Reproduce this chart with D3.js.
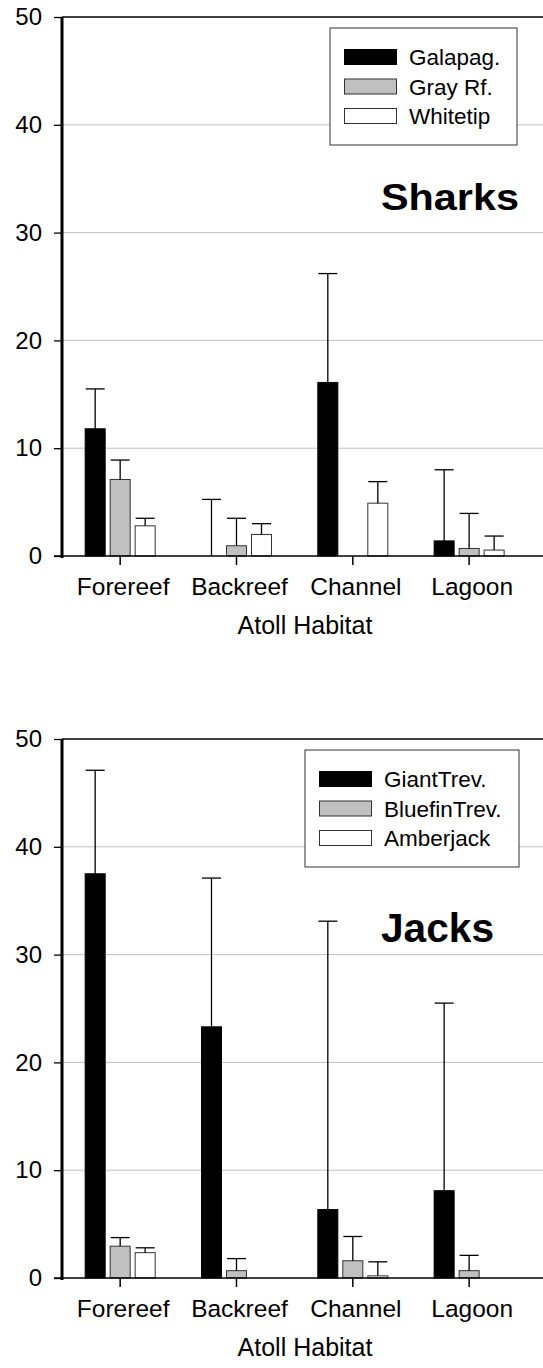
<!DOCTYPE html>
<html lang="en">
<head>
<meta charset="UTF-8">
<title>Sharks and Jacks by atoll habitat</title>
<script src="https://d3js.org/d3.v7.min.js"></script>
<style>
  body { margin: 0; background: #fff; }
  svg { display: block; font-family: Arial, "Liberation Sans", sans-serif; }
  .grid line { stroke: #c0c0c0; stroke-width: 1; }
  .err { stroke: #000; stroke-width: 1.3; fill: none; }
</style>
</head>
<body>
<svg width="543" height="1368"></svg>
<script>
// data
var habitats = ["Forereef", "Backreef", "Channel", "Lagoon"];
var yTicks = [0, 10, 20, 30, 40, 50];
var fills = ["#000000", "#c0c0c0", "#ffffff"];

var sharkNames = ["Galapag.", "Gray Rf.", "Whitetip"];
var galapagMean = [11.8, 0, 16.1, 1.4];
var galapagErr = [3.7, 5.25, 10.1, 6.6];
var grayRfMean = [7.1, 0.95, 0, 0.7];
var grayRfErr = [1.8, 2.55, 0, 3.25];
var whitetipMean = [2.8, 2.0, 4.9, 0.55];
var whitetipErr = [0.7, 1.0, 2.0, 1.3];

var jackNames = ["GiantTrev.", "BluefinTrev.", "Amberjack"];
var giantMean = [37.5, 23.3, 6.35, 8.1];
var giantErr = [9.6, 13.8, 26.75, 17.4];
var bluefinMean = [2.95, 0.68, 1.6, 0.68];
var bluefinErr = [0.8, 1.12, 2.25, 1.42];
var amberMean = [2.35, 0, 0.2, 0];
var amberErr = [0.45, 0, 1.3, 0];

var svg = d3.select("svg");

function panel(top, title, titleLen, titleSize, names, means, errs, legendX, legendW) {
    var g = svg.append("g").attr("transform", "translate(0," + top + ")");
    var axisX = 62, right = 543;

    var y = d3.scaleLinear().domain([0, 50]).range([556, 17]);
    var x = d3.scaleBand().domain(habitats).range([62, 527.3]).padding(0);
    var xs = d3.scaleBand().domain(d3.range(names.length)).range([-35, 35]).paddingInner(0.2);

    // gridlines
    g.append("g").attr("class", "grid")
        .selectAll("line").data(yTicks.filter(function (d) { return d > 0 && d < 50; }))
        .enter().append("line")
        .attr("x1", axisX).attr("x2", right)
        .attr("y1", function (d) { return y(d); }).attr("y2", function (d) { return y(d); });

    // top border
    g.append("line").attr("x1", axisX).attr("x2", right)
        .attr("y1", y(50)).attr("y2", y(50)).attr("stroke", "#000").attr("stroke-width", 1.3);

    // y axis
    var yAxis = g.append("g").attr("transform", "translate(" + axisX + ",0)")
        .call(d3.axisLeft(y).tickValues(yTicks).tickSize(8).tickPadding(12));
    yAxis.select(".domain").remove();
    yAxis.selectAll(".tick line").attr("stroke", "#000").attr("stroke-width", 1.3);
    yAxis.selectAll(".tick text").attr("font-size", 24).attr("fill", "#000")
        .attr("font-family", "Arial, 'Liberation Sans', sans-serif");

    // bars
    names.forEach(function (name, s) {
        var grp = g.append("g");
        var rows = habitats.map(function (h, i) { return { h: h, v: means[s][i], e: errs[s][i] }; });
        grp.selectAll("rect").data(rows.filter(function (d) { return d.v > 0; }))
            .enter().append("rect")
            .attr("x", function (d) { return x(d.h) + x.bandwidth() / 2 + xs(s); })
            .attr("y", function (d) { return y(d.v); })
            .attr("width", xs.bandwidth())
            .attr("height", function (d) { return y(0) - y(d.v); })
            .attr("fill", fills[s])
            .attr("stroke", s === 0 ? "#000" : "#333")
            .attr("stroke-width", 1);

        var eb = grp.selectAll(".eb").data(rows.filter(function (d) { return d.e > 0; }))
            .enter().append("g").attr("class", "eb");
        eb.append("line").attr("class", "err")
            .attr("x1", function (d) { return x(d.h) + x.bandwidth() / 2 + xs(s) + xs.bandwidth() / 2; })
            .attr("x2", function (d) { return x(d.h) + x.bandwidth() / 2 + xs(s) + xs.bandwidth() / 2; })
            .attr("y1", function (d) { return y(d.v); })
            .attr("y2", function (d) { return y(d.v + d.e); });
        eb.append("line").attr("class", "err")
            .attr("x1", function (d) { return x(d.h) + x.bandwidth() / 2 + xs(s) + xs.bandwidth() / 2 - 9.5; })
            .attr("x2", function (d) { return x(d.h) + x.bandwidth() / 2 + xs(s) + xs.bandwidth() / 2 + 9.5; })
            .attr("y1", function (d) { return y(d.v + d.e); })
            .attr("y2", function (d) { return y(d.v + d.e); });
    });

    // x axis
    var xAxis = g.append("g").attr("transform", "translate(0," + y(0) + ")")
        .call(d3.axisBottom(x).tickSize(9).tickPadding(13));
    xAxis.select(".domain").remove();
    xAxis.selectAll(".tick line").attr("stroke", "#000").attr("stroke-width", 1.5);
    xAxis.selectAll(".tick text").attr("font-size", 24.5).attr("fill", "#000")
        .attr("dx", 3)
        .attr("font-family", "Arial, 'Liberation Sans', sans-serif");
    g.append("line").attr("x1", 54).attr("x2", right)
        .attr("y1", y(0)).attr("y2", y(0)).attr("stroke", "#000").attr("stroke-width", 1.5);

    // thick left axis line
    g.append("line").attr("x1", axisX).attr("x2", axisX)
        .attr("y1", y(50)).attr("y2", y(0) + 2).attr("stroke", "#000").attr("stroke-width", 3);

    g.append("text").attr("x", 305).attr("y", y(0) + 78)
        .attr("text-anchor", "middle").attr("font-size", 25).text("Atoll Habitat");

    // legend
    var lg = g.append("g").attr("transform", "translate(" + legendX + "," + (y(50) + 11) + ")");
    lg.append("rect").attr("width", legendW).attr("height", 117)
        .attr("fill", "#fff").attr("stroke", "#333").attr("stroke-width", 1);
    names.forEach(function (name, s) {
        lg.append("rect").attr("x", 14.5).attr("y", 21.5 + s * 29.5).attr("width", 52).attr("height", 15)
            .attr("fill", fills[s]).attr("stroke", s === 0 ? "#000" : "#333").attr("stroke-width", 1);
        lg.append("text").attr("x", 79).attr("y", 37 + s * 29.5)
            .attr("font-size", 22.5).text(name);
    });

    // panel title
    g.append("text").attr("x", 381).attr("y", titleSize.y)
        .attr("font-size", titleSize.size).attr("font-weight", "bold")
        .attr("textLength", titleLen).attr("lengthAdjust", "spacingAndGlyphs")
        .text(title);
}

panel(0, "Sharks", 138, { size: 37, y: 210 }, sharkNames,
    [galapagMean, grayRfMean, whitetipMean], [galapagErr, grayRfErr, whitetipErr], 330, 187);
panel(722, "Jacks", 113, { size: 41, y: 220 }, jackNames,
    [giantMean, bluefinMean, amberMean], [giantErr, bluefinErr, amberErr], 305, 214);
</script>
</body>
</html>
